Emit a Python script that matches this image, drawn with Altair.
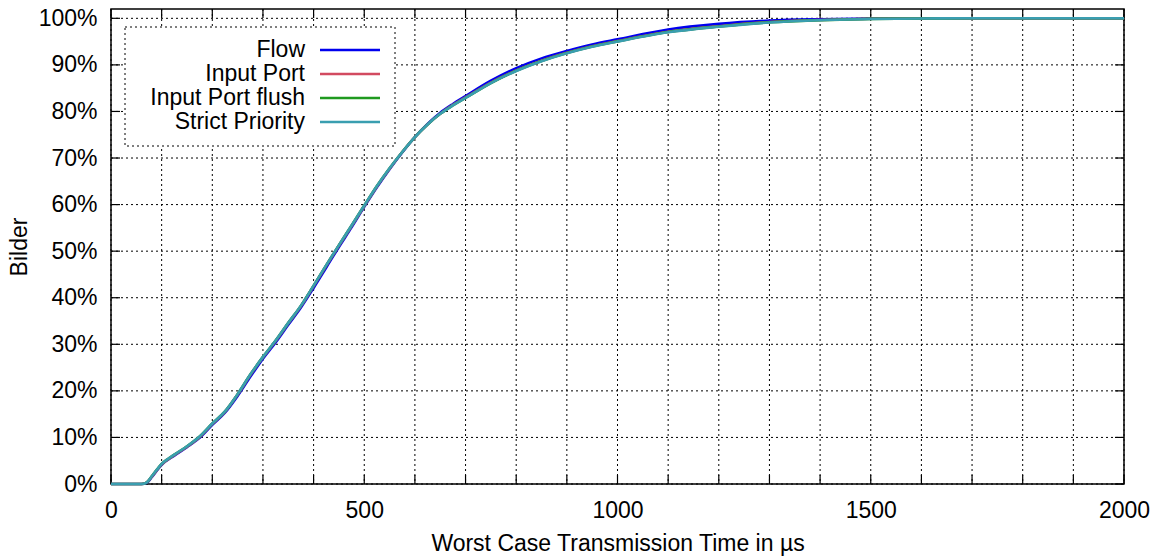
import altair as alt
import pandas as pd

# ---- data ----
names = ["Flow", "Input Port", "Input Port flush", "Strict Priority"]
colors = ["#0000ee", "#d24a60", "#1f9a1f", "#3a9eb0"]

x_vals = [0, 60, 70, 80, 90, 100, 125, 150, 175, 200, 225, 250, 275, 300, 325, 350,
          375, 400, 425, 450, 475, 500, 525, 550, 575, 600, 625, 650, 675, 700, 750,
          800, 850, 900, 950, 1000, 1100, 1200, 1300, 1400, 1500, 1600, 1700, 2000]

flow = [0, 0, 0.2, 1.4, 2.8, 4.1, 6.1, 7.9, 9.9, 12.7, 15.3, 18.9, 23.0, 26.9, 30.4, 34.2,
        37.9, 42.1, 46.5, 50.9, 55.1, 59.5, 63.7, 67.6, 71.2, 74.5, 77.3, 79.7, 81.6, 83.3, 86.6,
        89.3, 91.4, 93.0, 94.4, 95.5, 97.6, 98.8, 99.5, 99.8, 99.95, 100, 100, 100]

input_port = [0, 0, 0.3, 1.5, 2.9, 4.2, 6.2, 8.0, 10.1, 12.9, 15.5, 19.2, 23.4, 27.2, 30.7, 34.5,
              38.2, 42.5, 46.9, 51.2, 55.4, 59.7, 63.9, 67.7, 71.3, 74.5, 77.2, 79.5, 81.4, 83.0, 86.2,
              88.8, 90.9, 92.6, 94.0, 95.1, 97.1, 98.3, 99.2, 99.65, 99.9, 99.98, 100, 100]

input_flush = [0, 0, 0.3, 1.6, 3.0, 4.3, 6.3, 8.1, 10.2, 13.0, 15.6, 19.3, 23.5, 27.3, 30.8, 34.6,
               38.3, 42.6, 47.0, 51.3, 55.5, 59.8, 64.0, 67.8, 71.3, 74.5, 77.2, 79.5, 81.3, 82.9, 86.1,
               88.75, 90.85, 92.55, 93.95, 95.05, 97.05, 98.25, 99.15, 99.6, 99.87, 99.97, 100, 100]

strict = [0, 0, 0.3, 1.6, 3.0, 4.3, 6.3, 8.1, 10.2, 13.0, 15.6, 19.3, 23.5, 27.3, 30.8, 34.6,
          38.3, 42.6, 47.0, 51.3, 55.5, 59.8, 64.0, 67.8, 71.3, 74.5, 77.2, 79.5, 81.3, 82.9, 86.1,
          88.7, 90.8, 92.5, 93.9, 95.0, 97.0, 98.2, 99.1, 99.6, 99.85, 99.97, 100, 100]

x_label_values = [0, 500, 1000, 1500, 2000]
x_grid = list(range(0, 2001, 100))
y_grid = [i / 10 for i in range(11)]

# ---- build tables ----
rows = []
for name, vals in zip(names, [flow, input_port, input_flush, strict]):
    for xv, yv in zip(x_vals, vals):
        rows.append({"t": xv, "p": yv / 100.0, "series": name})
df = pd.DataFrame(rows)
df_xg = pd.DataFrame({"t": x_grid})
df_yg = pd.DataFrame({"p": y_grid})
df_leg = pd.DataFrame({"series": names, "row": list(range(len(names)))})
df_one = pd.DataFrame({"k": [0]})

W, H = 1013, 475
FONT = "Liberation Sans"
FS = 23

xs = alt.Scale(domain=[0, 2000], nice=False, zero=False)
ys = alt.Scale(domain=[0, 1.02], nice=False, zero=False)
cs = alt.Scale(domain=names, range=colors)

x_axis = alt.Axis(values=x_label_values, format="d", grid=False, ticks=False, tickSize=0,
                  domain=False, labelFont=FONT, labelFontSize=FS, labelColor="black",
                  labelPadding=15, labelFlush=False, labelOverlap=False,
                  title="Worst Case Transmission Time in µs", titleFont=FONT,
                  titleFontSize=FS, titleFontWeight="normal", titleColor="black",
                  titlePadding=10)
y_axis = alt.Axis(values=y_grid, format=".0%", grid=False, ticks=False, tickSize=0,
                  domain=False, labelFont=FONT, labelFontSize=FS, labelColor="black",
                  labelPadding=14, labelFlush=False, labelOverlap=False,
                  title="Bilder", titleFont=FONT, titleFontSize=FS,
                  titleFontWeight="normal", titleColor="black", titlePadding=7)

grid_x = alt.Chart(df_xg).mark_rule(color="black", strokeDash=[2, 3], strokeWidth=1).encode(
    x=alt.X("t:Q", scale=xs, axis=x_axis), y=alt.value(0), y2=alt.value(H))
grid_y = alt.Chart(df_yg).mark_rule(color="black", strokeDash=[2, 3], strokeWidth=1).encode(
    y=alt.Y("p:Q", scale=ys, axis=y_axis), x=alt.value(0), x2=alt.value(W))

tick_b = alt.Chart(df_xg).mark_rule(color="black", strokeWidth=1.2).encode(
    x=alt.X("t:Q", scale=xs, axis=x_axis), y=alt.value(H), y2=alt.value(H - 9))
tick_t = alt.Chart(df_xg).mark_rule(color="black", strokeWidth=1.2).encode(
    x=alt.X("t:Q", scale=xs, axis=x_axis), y=alt.value(0), y2=alt.value(9))
tick_l = alt.Chart(df_yg).mark_rule(color="black", strokeWidth=1.2).encode(
    y=alt.Y("p:Q", scale=ys, axis=y_axis), x=alt.value(0), x2=alt.value(9))
tick_r = alt.Chart(df_yg).mark_rule(color="black", strokeWidth=1.2).encode(
    y=alt.Y("p:Q", scale=ys, axis=y_axis), x=alt.value(W), x2=alt.value(W - 9))

leg_box = alt.Chart(df_one).mark_rect(fill="white", stroke="black", strokeDash=[2, 3],
                                      strokeWidth=1).encode(
    x=alt.value(14), x2=alt.value(284), y=alt.value(18), y2=alt.value(137))

leg_text = alt.Chart(df_leg).transform_calculate(py="41 + 24 * datum.row").mark_text(
    align="right", baseline="middle", font=FONT, fontSize=FS, color="black").encode(
    x=alt.value(194), y=alt.Y("py:Q", scale=None, axis=None), text="series:N")

leg_line = alt.Chart(df_leg).transform_calculate(py="41 + 24 * datum.row").mark_rule(
    strokeWidth=2.5).encode(
    x=alt.value(209), x2=alt.value(269), y=alt.Y("py:Q", scale=None, axis=None),
    color=alt.Color("series:N", scale=cs, legend=None))

lines = alt.Chart(df).mark_line(strokeWidth=2.6, interpolate="monotone").encode(
    x=alt.X("t:Q", scale=xs, axis=x_axis),
    y=alt.Y("p:Q", scale=ys, axis=y_axis),
    color=alt.Color("series:N", scale=cs, legend=None),
    order=alt.Order("t:Q"))

chart = alt.layer(grid_x, grid_y, tick_b, tick_t, tick_l, tick_r, leg_box, leg_text,
                  leg_line, lines).properties(
    width=W, height=H,
    padding={"left": 111, "top": 9, "right": 30, "bottom": 75},
    autosize=alt.AutoSizeParams(type="none"),
    background="white",
).configure_view(stroke="black", strokeWidth=1.5)

chart.save("out.html", embed_options={"renderer": "svg", "actions": False})
